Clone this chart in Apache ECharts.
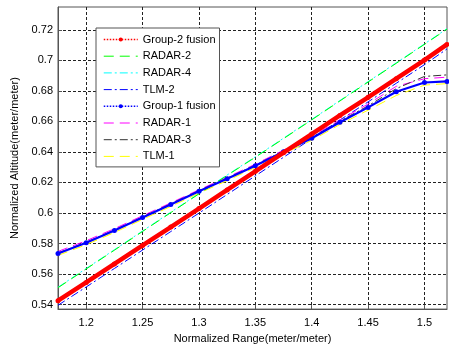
<!DOCTYPE html>
<html>
<head>
<meta charset="utf-8">
<script src="https://cdn.jsdelivr.net/npm/echarts@6/dist/echarts.min.js"></script>
<style>html,body{margin:0;padding:0;background:#fff;}#c{width:449px;height:349px;}</style>
</head>
<body>
<div id="c"></div>
<script>
// Shared x positions (Normalized Range)
const xs = [1.175, 1.2, 1.225, 1.25, 1.275, 1.3, 1.325, 1.35, 1.375, 1.4, 1.425, 1.45, 1.475, 1.5, 1.52];
// Group 2
const group2Fusion = [0.5425, 0.5545, 0.5666, 0.5787, 0.5908, 0.6029, 0.6151, 0.6273, 0.6395, 0.6517, 0.6639, 0.6758, 0.6880, 0.7002, 0.7105];
const radar2 = [0.5510, 0.5633, 0.5756, 0.5879, 0.6002, 0.6125, 0.6246, 0.6365, 0.6487, 0.6610, 0.6734, 0.6858, 0.6981, 0.7105, 0.7205];
const radar4 = [0.5513, 0.5636, 0.5759, 0.5882, 0.6005, 0.6128, 0.6249, 0.6368, 0.6490, 0.6613, 0.6737, 0.6861, 0.6984, 0.7108, 0.7208];
const tlm2 = [0.5395, 0.5515, 0.5636, 0.5757, 0.5878, 0.5999, 0.6121, 0.6243, 0.6365, 0.6487, 0.6609, 0.6728, 0.6850, 0.6972, 0.7075];
// Group 1
const group1Fusion = [0.5735, 0.5805, 0.5885, 0.5970, 0.6055, 0.6142, 0.6224, 0.6310, 0.6402, 0.6490, 0.6595, 0.6692, 0.6795, 0.6855, 0.6862];
const radar1 = [0.5748, 0.5818, 0.5897, 0.5982, 0.6066, 0.6152, 0.6234, 0.6320, 0.6412, 0.6502, 0.6610, 0.6714, 0.6830, 0.6880, 0.6890];
const radar3 = [0.5738, 0.5808, 0.5888, 0.5974, 0.6060, 0.6146, 0.6228, 0.6314, 0.6406, 0.6495, 0.6602, 0.6702, 0.6815, 0.6895, 0.6905];
const tlm1 = [0.5722, 0.5792, 0.5872, 0.5958, 0.6043, 0.6130, 0.6212, 0.6298, 0.6388, 0.6476, 0.6580, 0.6674, 0.6770, 0.6838, 0.6848];
// Tick labels
const xTicks = [1.2, 1.25, 1.3, 1.35, 1.4, 1.45, 1.5];
const yTicks = [0.54, 0.56, 0.58, 0.6, 0.62, 0.64, 0.66, 0.68, 0.7, 0.72];
const names = ['Group-2 fusion', 'RADAR-2', 'RADAR-4', 'TLM-2', 'Group-1 fusion', 'RADAR-1', 'RADAR-3', 'TLM-1'];

const pts = arr => xs.map((x, i) => [x, arr[i]]);
const font = 'Liberation Sans, Arial, sans-serif';

function lineSeries(name, arr, color, type, width, z) {
  return {
    name, type: 'line', data: pts(arr), symbol: 'none', smooth: false, z: z || 2,
    lineStyle: { color, type, width }, itemStyle: { color }, animation: false
  };
}

const series = [
  lineSeries(names[2], radar4, '#00ffff', [8, 3, 2, 3], 1, 2),
  lineSeries(names[1], radar2, '#00ff00', [10, 6], 1, 3),
  lineSeries(names[3], tlm2, '#0000ff', [8, 3, 2, 3], 1, 2),
  lineSeries(names[7], tlm1, '#ffff00', [10, 6], 1, 2),
  lineSeries(names[5], radar1, '#ff00ff', [10, 6], 1, 2),
  lineSeries(names[6], radar3, '#333333', [8, 3, 2, 3], 1, 3),
  {
    name: names[4], type: 'line', data: pts(group1Fusion), symbol: 'circle', symbolSize: 5, z: 5,
    lineStyle: { color: '#0000ff', width: 2.2, type: 'solid' }, itemStyle: { color: '#0000ff' }, animation: false
  },
  {
    name: names[0], type: 'line', data: pts(group2Fusion), symbol: 'circle', symbolSize: 5, z: 6,
    lineStyle: { color: '#ff0000', width: 4.5, type: 'solid' }, itemStyle: { color: '#ff0000' }, animation: false
  }
];

const legendData = names.map(n => {
  if (n === 'Group-2 fusion') return { name: n, lineStyle: { color: '#ff0000', type: 'dotted', width: 1.5, opacity: 1 }, itemStyle: { color: '#ff0000' } };
  if (n === 'Group-1 fusion') return { name: n, lineStyle: { color: '#0000ff', type: 'dotted', width: 1.5, opacity: 1 }, itemStyle: { color: '#0000ff' } };
  return { name: n, itemStyle: { opacity: 0 } };
});

const chart = echarts.init(document.getElementById('c'), null, { renderer: 'canvas' });
chart.setOption({
  backgroundColor: '#ffffff',
  animation: false,
  grid: { left: 58, top: 7, right: 2, bottom: 33, show: true, borderColor: '#555', borderWidth: 1, backgroundColor: '#fff' },
  legend: {
    data: legendData, orient: 'vertical', left: 96, top: 28,
    backgroundColor: '#fff', borderColor: '#555', borderWidth: 1,
    padding: [6, 4, 5, 7], itemWidth: 34, itemHeight: 5, itemGap: 5.7,
    lineStyle: { width: 1 },
    textStyle: { fontFamily: font, fontSize: 11, color: '#000', lineHeight: 11 }
  },
  xAxis: {
    type: 'value', min: 1.175, max: 1.52,
    name: 'Normalized Range(meter/meter)', nameLocation: 'middle', nameGap: 22,
    nameTextStyle: { fontFamily: font, fontSize: 11, color: '#000' },
    axisLine: { show: true, onZero: false, lineStyle: { color: '#555', width: 1 } },
    axisTick: { show: true, inside: true, length: 4, customValues: xTicks, lineStyle: { color: '#555' } },
    axisLabel: { customValues: xTicks, fontFamily: font, fontSize: 11, color: '#000', margin: 8 },
    splitLine: { show: true, lineStyle: { color: '#222', type: [3, 2], width: 1 } }
  },
  yAxis: {
    type: 'value', min: 0.537, max: 0.735,
    name: 'Normalized Altitude(meter/meter)', nameLocation: 'middle', nameGap: 32,
    nameTextStyle: { fontFamily: font, fontSize: 11, color: '#000' },
    axisLine: { show: true, onZero: false, lineStyle: { color: '#555', width: 1 } },
    axisTick: { show: true, inside: true, length: 4, customValues: yTicks, lineStyle: { color: '#555' } },
    axisLabel: { customValues: yTicks, fontFamily: font, fontSize: 11, color: '#000', margin: 5 },
    splitLine: { show: true, lineStyle: { color: '#222', type: [3, 2], width: 1 } }
  },
  series
});
</script>
</body>
</html>
